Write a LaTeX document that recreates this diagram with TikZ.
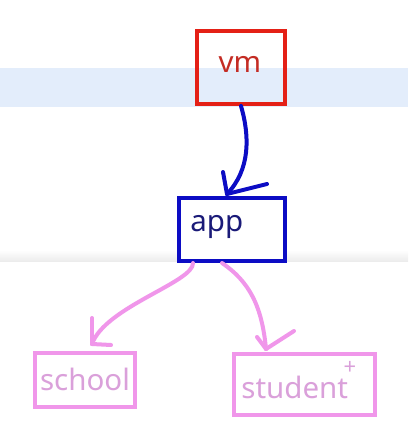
\documentclass[tikz,border=0pt]{standalone}
\usepackage{fontspec}
\setmainfont{Noto Sans}
\usetikzlibrary{positioning}
\definecolor{bandblue}{RGB}{227,237,251}
\definecolor{vmred}{RGB}{228,32,22}
\definecolor{vmtext}{RGB}{196,44,36}
\definecolor{appblue}{RGB}{12,12,196}
\definecolor{apptext}{RGB}{26,26,120}
\definecolor{inkpink}{RGB}{240,150,234}
\definecolor{textpink}{RGB}{218,160,218}
\tikzset{every picture/.style={line width=0.75pt}}

\begin{document}
\begin{tikzpicture}[x=1pt,y=1pt,
    box/.style={draw,line width=4pt,inner sep=0pt},
    lbl/.style={inner sep=0pt,font=\fontsize{29.5}{32}\selectfont},
    ink/.style={line width=4pt,line cap=round,line join=round}]
    % canvas
    \useasboundingbox (0,0) rectangle (408,432);
    \fill[white] (0,0) rectangle (408,432);

    % background bands
    \fill[bandblue] (0,325) rectangle (408,364);
    \shade[top color=white,bottom color=black!8] (0,182) rectangle (408,170);

    % boxes
    \node[box,draw=vmred,minimum width=88,minimum height=73] (vm) at (241,364.5) {};
    \node[box,draw=appblue,fill=white,minimum width=106,minimum height=63] (app) at (232,202.5) {};
    \node[box,draw=inkpink,minimum width=100,minimum height=54] (school) at (85,52) {};
    \node[box,draw=inkpink,minimum width=141,minimum height=61] (student) at (304.5,47.5) {};

    % texts
    \node[lbl,text=vmtext] (vmlbl) at (240,368) {vm};
    \node[lbl,text=apptext,anchor=west] (applbl) at (190,205) {app};
    \node[lbl,text=textpink] (schoollbl) at (85,53) {school};
    \node[lbl,text=textpink,anchor=west] (studentlbl) at (241,45) {student};
    \node[inner sep=0pt,text=textpink,font=\fontsize{22}{24}\selectfont] (plus) at (350,64) {+};

    % vm -> app
    \coordinate (vmtip) at (227,238);
    \draw[ink,appblue] (vm.south) .. controls (250,295) and (250,262) .. (vmtip);
    \draw[ink,appblue] (vmtip) -- ++(-4,22);
    \draw[ink,appblue] (vmtip) -- ++(40,10);

    % app -> school
    \coordinate (schooltip) at (92,88);
    \draw[ink,inkpink] (app.south west) ++(16,0) .. controls (194,150) and (105,125) .. (schooltip);
    \draw[ink,inkpink] (schooltip) -- ++(0,26);
    \draw[ink,inkpink] (schooltip) -- ++(19,-1);

    % app -> student
    \coordinate (studenttip) at (266,83);
    \draw[ink,inkpink] (app.south) ++(-10,0) .. controls (250,150) and (262,125) .. (studenttip);
    \draw[ink,inkpink] (studenttip) -- ++(-9,12);
    \draw[ink,inkpink] (studenttip) -- ++(28,18);
\end{tikzpicture}
\end{document}
